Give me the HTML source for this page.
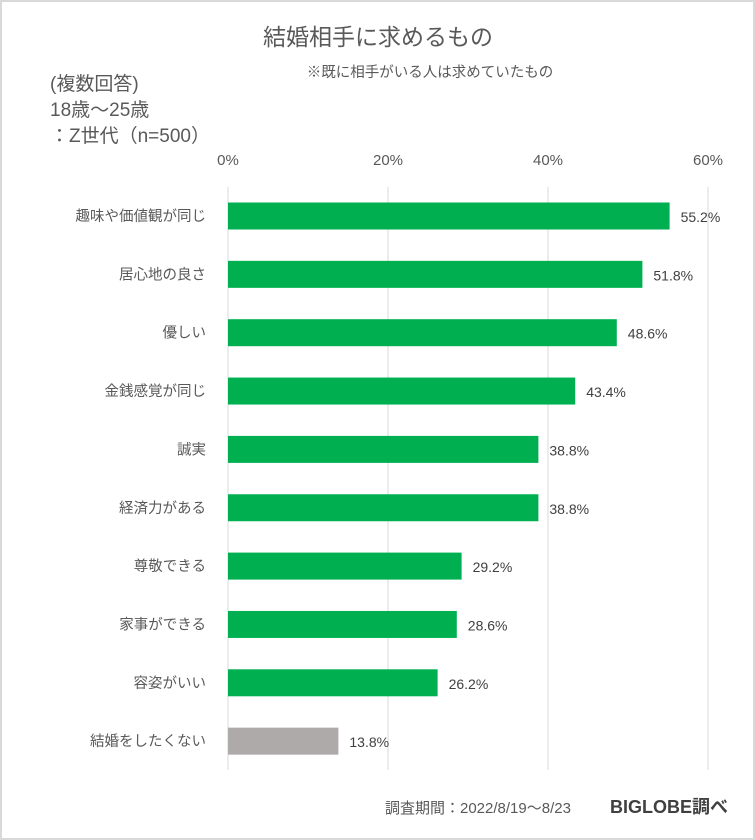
<!DOCTYPE html>
<html><head><meta charset="utf-8"><style>
body{margin:0;background:#fff;}
svg{display:block;font-family:"Liberation Sans","Noto Sans CJK JP",sans-serif;}
</style></head><body>
<svg id="chart" width="755" height="840" viewBox="0 0 755 840">
<rect x="1" y="1" width="753" height="838" fill="#fff" stroke="#d9d9d9" stroke-width="2"/>
<text x="378" y="45" font-size="23" fill="#595959" text-anchor="middle">結婚相手に求めるもの</text>
<text x="430" y="77" font-size="14.5" fill="#595959" text-anchor="middle">※既に相手がいる人は求めていたもの</text>
<text x="50" y="90" font-size="19" fill="#595959">(複数回答)</text>
<text x="50" y="116" font-size="19" fill="#595959">18歳～25歳</text>
<text x="50" y="142" font-size="19" fill="#595959">：Z世代（n=500）</text>
<g id="grid"></g><g id="bars"></g>
<text x="385" y="813" font-size="15" fill="#595959">調査期間：2022/8/19～8/23</text>
<text x="610" y="813" font-size="18" font-weight="bold" fill="#404040">BIGLOBE調べ</text>
</svg>
<script>
const categories=["趣味や価値観が同じ","居心地の良さ","優しい","金銭感覚が同じ","誠実","経済力がある","尊敬できる","家事ができる","容姿がいい","結婚をしたくない"];
const values=[55.2,51.8,48.6,43.4,38.8,38.8,29.2,28.6,26.2,13.8];
const ticks=[0,20,40,60];
const tickLabels=["0%","20%","40%","60%"];
const NS="http://www.w3.org/2000/svg";
const x=v=>228+v*8;
const y=i=>216+i*58.35;
const grid=document.getElementById('grid'),bars=document.getElementById('bars');
function mk(tag,attrs,parent,txt){const e=document.createElementNS(NS,tag);for(const k in attrs)e.setAttribute(k,attrs[k]);if(txt!==undefined)e.textContent=txt;parent.appendChild(e);return e;}
ticks.forEach((t,i)=>{
  const l=mk('line',{x1:x(t),x2:x(t),y1:187,y2:770,stroke:'#d9d9d9','stroke-width':1},grid);
  
  
  const tx=mk('text',{x:x(t),y:165,'font-size':15,fill:'#595959','text-anchor':'middle'},grid,tickLabels[i]);
  
  
});
categories.forEach((c,i)=>{
  const r=mk('rect',{x:x(0),y:y(i)-13.5,width:x(values[i])-x(0),height:27,fill:i===categories.length-1?'#aeaaaa':'#00b050'},bars);
  
  
  const cl=mk('text',{x:206,y:y(i)+5,'font-size':14.5,fill:'#595959','text-anchor':'end'},bars,c);
  
  
  const vl=mk('text',{x:x(values[i])+11,y:y(i)+6,'font-size':14,fill:'#404040'},bars,values[i].toFixed(1)+'%');
  
  
});
</script>
</body></html>
